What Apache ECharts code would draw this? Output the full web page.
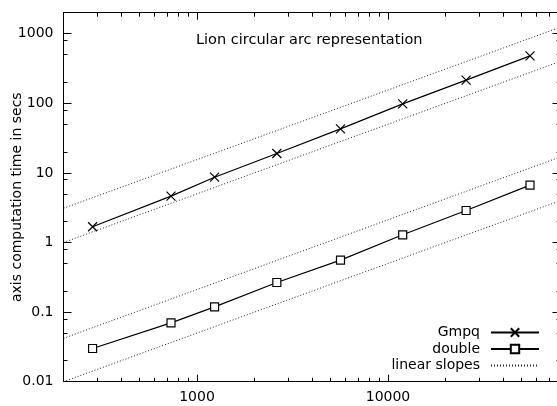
<!DOCTYPE html>
<html>
<head>
<meta charset="utf-8">
<script src="https://cdn.jsdelivr.net/npm/echarts@6/dist/echarts.min.js"></script>
<style>
html,body{margin:0;padding:0;background:#fff;}
#c{width:557px;height:406px;}
</style>
</head>
<body>
<div id="c"></div>
<script>
// ---- data ----
const sizes = [284, 731, 1236, 2618, 5640, 11940, 25640, 55400];
const gmpqTimes = [1.68, 4.63, 8.67, 19.0, 42.9, 98, 215, 480];
const doubleTimes = [0.030, 0.070, 0.119, 0.266, 0.557, 1.29, 2.88, 6.66];

// linear slope guide lines (end points at the x-range limits)
const slopeX = [200, 80000];
const slopeGmpqHigh = [3.1, 1240];
const slopeGmpqLow = [1.0, 400];
const slopeDoubleHigh = [0.042, 17];
const slopeDoubleLow = [0.01, 4];

// axis ticks
const xMajorTicks = [1000, 10000];
const xMajorLabels = ['1000', '10000'];
const xMinorTicks = [300, 400, 500, 600, 700, 800, 900, 2000, 3000, 4000, 5000, 6000, 7000, 8000, 9000, 20000, 30000, 40000, 50000, 60000, 70000];
const yMajorTicks = [0.01, 0.1, 1, 10, 100, 1000];
const yMajorLabels = ['0.01', '0.1', '1', '10', '100', '1000'];
const yMinorTicks = [0.02, 0.05, 0.08, 0.2, 0.5, 0.8, 2, 5, 8, 20, 50, 80, 200, 500, 800];

const xMin = 200, xMax = 80000, yMin = 0.01, yMax = 2000;

const FONT = 'DejaVu Sans';
function lookup(ticks, labels, v) {
  for (let i = 0; i < ticks.length; i++) {
    if (Math.abs(Math.log10(ticks[i] / v)) < 1e-6) return labels[i];
  }
  return '';
}
const zip = (xs, ys) => xs.map((x, i) => [x, ys[i]]);

const black = '#000';
function xAxisDef(pos, ticks, len, withLabels, withLine) {
  return {
    type: 'log', logBase: 10, min: xMin, max: xMax, position: pos, gridIndex: 0,
    axisLine: {show: withLine, lineStyle: {color: black, width: 1}},
    axisTick: {show: true, inside: true, length: len, customValues: ticks, lineStyle: {color: black, width: 1}},
    axisLabel: withLabels ? {
      show: true, customValues: ticks, margin: 9, fontSize: 14, fontFamily: FONT, color: black,
      formatter: v => lookup(xMajorTicks, xMajorLabels, v)
    } : {show: false},
    splitLine: {show: false}, minorTick: {show: false}, minorSplitLine: {show: false}
  };
}
function yAxisDef(pos, ticks, len, withLabels, withLine, withName) {
  const a = {
    type: 'log', logBase: 10, min: yMin, max: yMax, position: pos, gridIndex: 0,
    axisLine: {show: withLine, lineStyle: {color: black, width: 1}},
    axisTick: {show: true, inside: true, length: len, customValues: ticks, lineStyle: {color: black, width: 1}},
    axisLabel: withLabels ? {
      show: true, customValues: ticks, margin: 10, fontSize: 14, fontFamily: FONT, color: black,
      formatter: v => lookup(yMajorTicks, yMajorLabels, v)
    } : {show: false},
    splitLine: {show: false}, minorTick: {show: false}, minorSplitLine: {show: false}
  };
  if (withName) {
    a.name = 'axis computation time in secs';
    a.nameLocation = 'middle';
    a.nameGap = 39;
    a.nameRotate = 90;
    a.nameMoveOverlap = false;
    a.nameTextStyle = {fontSize: 14, fontFamily: FONT, color: black};
  }
  return a;
}

const slopeStyle = {color: '#222', width: 1, type: [1, 2]};
function slopeSeries(ys) {
  return {
    name: 'linear slopes', type: 'line', xAxisIndex: 0, yAxisIndex: 0,
    data: zip(slopeX, ys), symbol: 'circle', showSymbol: false, symbolSize: 0,
    lineStyle: slopeStyle, itemStyle: {color: 'rgba(0,0,0,0)', borderWidth: 0},
    silent: true, z: 1
  };
}

const chart = echarts.init(document.getElementById('c'), null, {renderer: 'canvas'});
chart.setOption({
  animation: false,
  backgroundColor: '#fff',
  textStyle: {fontFamily: FONT},
  title: {
    text: 'Lion circular arc representation',
    left: 196, top: 33, padding: 0,
    textStyle: {fontSize: 14.5, fontWeight: 'normal', fontFamily: FONT, color: black}
  },
  grid: {left: 63.5, right: -3.5, top: 12.7, bottom: 24.3, containLabel: false, outerBoundsMode: 'none'},
  legend: {
    orient: 'vertical', align: 'right', right: 17, top: 325.5, padding: 0,
    itemWidth: 48, itemHeight: 10.5, itemGap: 2.5,
    textStyle: {fontSize: 14, fontFamily: FONT, color: black, padding: [0, 6, 0, 0]},
    data: ['Gmpq', 'double', 'linear slopes']
  },
  xAxis: [
    xAxisDef('bottom', xMajorTicks, 7, true, true),
    xAxisDef('top', xMajorTicks, 7, false, true),
    xAxisDef('bottom', xMinorTicks, 4, false, false),
    xAxisDef('top', xMinorTicks, 4, false, false)
  ],
  yAxis: [
    yAxisDef('left', yMajorTicks, 8, true, true, true),
    yAxisDef('right', yMajorTicks, 8, false, true, false),
    yAxisDef('left', yMinorTicks, 4, false, false, false),
    yAxisDef('right', yMinorTicks, 4, false, false, false)
  ],
  series: [
    {
      name: 'Gmpq', type: 'line', xAxisIndex: 0, yAxisIndex: 0,
      data: zip(sizes, gmpqTimes),
      symbol: 'path://M0,0L10,10M10,0L0,10', symbolSize: 9,
      lineStyle: {color: black, width: 1.2},
      itemStyle: {color: black, borderColor: black, borderWidth: 1.2},
      z: 3
    },
    {
      name: 'double', type: 'line', xAxisIndex: 0, yAxisIndex: 0,
      data: zip(sizes, doubleTimes),
      symbol: 'rect', symbolSize: 8,
      lineStyle: {color: black, width: 1.2},
      itemStyle: {color: '#fff', borderColor: black, borderWidth: 1.2},
      z: 3
    },
    slopeSeries(slopeGmpqHigh),
    slopeSeries(slopeGmpqLow),
    slopeSeries(slopeDoubleHigh),
    slopeSeries(slopeDoubleLow)
  ]
});
</script>
</body>
</html>
